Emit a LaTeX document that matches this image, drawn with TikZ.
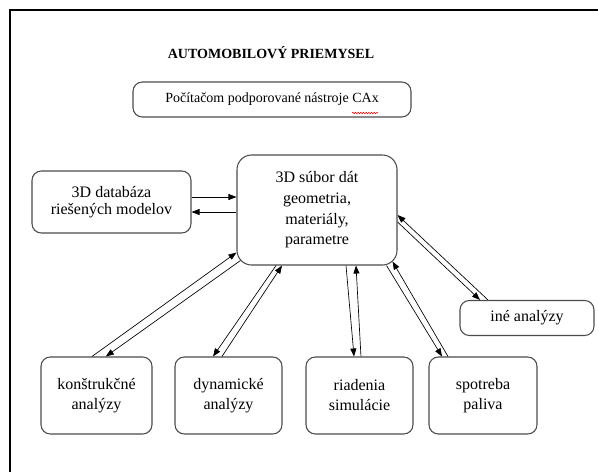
\documentclass[tikz,border=0pt]{standalone}
\usepackage{fontspec}
\setmainfont{Liberation Serif}
\usetikzlibrary{arrows.meta,decorations.pathmorphing}
\begin{document}
\begin{tikzpicture}[x=0.75pt,y=-0.75pt,>={Triangle[length=6pt,width=4.5pt]},
  box/.style={draw=black!70,line width=0.8pt,rounded corners=7pt,align=center,
    inner sep=0pt,font=\fontsize{12}{13}\selectfont},
  sip/.style={->,line width=0.5pt}]
\useasboundingbox (0,0) rectangle (598,472);
% ram
\draw[line width=0.8pt] (598,10) -- (10,10) -- (10,472);
% nadpis a CAx
\node[font=\bfseries\fontsize{10.5}{13}\selectfont] (titul) at (271,53) {AUTOMOBILOVÝ PRIEMYSEL};
\node[box,minimum width=208.5pt,minimum height=26.25pt,font=\fontsize{10.5}{13}\selectfont] (cax) at (272,99.5) {Počítačom podporované nástroje CAx};
\draw[red,line width=0.4pt,decorate,decoration={snake,amplitude=0.6pt,segment length=2pt}] (352,113) -- (378,113);
% stred a databaza
\node[box,rounded corners=11pt,minimum width=120pt,minimum height=82.5pt,
  font=\fontsize{12}{15.5}\selectfont] (subor) at (317,210) {3D súbor dát\\geometria,\\materiály,\\parametre};
\node[box,minimum width=119.25pt,minimum height=46.5pt] (dbmod) at (111.5,202) {3D databáza\\riešených modelov};
\node[box,minimum width=100.5pt,minimum height=26.25pt] (ine) at (527,318) {iné analýzy};
% spodny rad
\node[box,minimum width=83.25pt,minimum height=57.75pt,font=\fontsize{12}{15}\selectfont] (kon) at (96.5,395.5) {konštrukčné\\analýzy};
\node[box,minimum width=80.25pt,minimum height=57.75pt,font=\fontsize{12}{15}\selectfont] (dyn) at (228.5,395.5) {dynamické\\analýzy};
\node[box,minimum width=80.25pt,minimum height=57.75pt,font=\fontsize{12}{15}\selectfont] (riad) at (359.5,395.5) {riadenia\\simulácie};
\node[box,minimum width=81pt,minimum height=57.75pt,font=\fontsize{12}{15}\selectfont] (spot) at (483,395.5) {spotreba\\paliva};
% sipky
\draw[sip] ([yshift=3.75pt]dbmod.east) -- ([yshift=3.75pt]dbmod.east -| subor.west);
\draw[sip] ([yshift=-7.5pt]dbmod.east -| subor.west) -- ([yshift=-7.5pt]dbmod.east);
\draw[sip] ([xshift=-3.4pt]kon.north) -- ([yshift=9.75pt]subor.south west);
\draw[sip] ([xshift=3pt,yshift=3.75pt]subor.south west) -- ([xshift=7pt]kon.north);
\draw[sip] ([xshift=-4.9pt]dyn.north) -- ([xshift=-26.25pt]subor.south);
\draw[sip] ([xshift=-30.75pt]subor.south) -- ([xshift=-11.6pt]dyn.north);
\draw[sip] ([xshift=21.75pt]subor.south) -- ([xshift=-4.1pt]riad.north);
\draw[sip] ([xshift=1.1pt]riad.north) -- ([xshift=29.25pt]subor.south);
\draw[sip] ([xshift=-26.25pt]spot.north) -- ([xshift=-3.75pt,yshift=3pt]subor.south east);
\draw[sip] ([xshift=-8.25pt]subor.south east) -- ([xshift=-30.75pt]spot.north);
\draw[sip] ([xshift=-29.25pt]ine.north) -- ([yshift=-3.75pt]subor.east);
\draw[sip] ([yshift=-9pt]subor.east) -- ([xshift=-35.25pt]ine.north);
\end{tikzpicture}
\end{document}
